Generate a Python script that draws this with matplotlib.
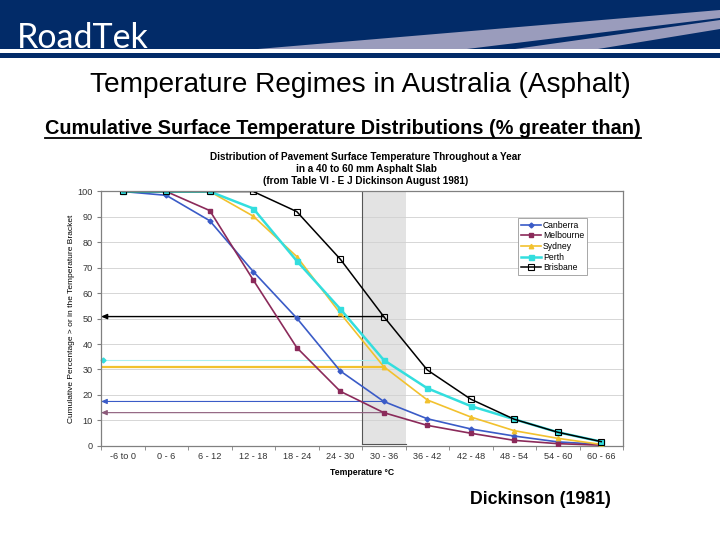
import matplotlib
matplotlib.use('Agg')
import matplotlib.pyplot as plt
from matplotlib.patches import Rectangle, Polygon

plt.rcParams['font.family'] = ['Liberation Sans', 'DejaVu Sans']

categories = ['-6 to 0', '0 - 6', '6 - 12', '12 - 18', '18 - 24', '24 - 30',
              '30 - 36', '36 - 42', '42 - 48', '48 - 54', '54 - 60', '60 - 66']
canberra = [100, 98.5, 88.5, 68.5, 50.2, 29.4, 17.4, 10.6, 6.6, 3.8, 1.5, 0.5]
melbourne = [100, 100, 92.5, 65.2, 38.6, 21.4, 13.0, 8.0, 4.9, 2.1, 0.8, 0.2]
sydney = [100, 100, 100, 90.3, 74.4, 52.1, 31.1, 18.0, 11.3, 5.9, 2.9, 0.5]
perth = [100, 100, 100, 93.3, 72.7, 53.8, 33.7, 22.6, 15.6, 10.4, 5.3, 1.6]
brisbane = [100, 100, 100, 100, 92.1, 73.4, 50.8, 29.8, 18.3, 10.4, 5.3, 1.6]
bracket = 6  # the 30 - 36 bracket that is highlighted

navy = '#022b68'
swoosh = '#9a9cbc'

fig = plt.figure(figsize=(7.2, 5.4), dpi=100)

# page furniture in pixel coordinates
bg = fig.add_axes([0, 0, 1, 1])
bg.set_xlim(0, 720)
bg.set_ylim(540, 0)
bg.axis('off')
bg.add_patch(Rectangle((0, 0), 720, 49, color=navy, lw=0))
bg.add_patch(Rectangle((0, 53), 720, 5, color=navy, lw=0))
bg.add_patch(Polygon([(258, 49), (720, 10), (720, 18), (467, 49)], color=swoosh, lw=0))
bg.add_patch(Polygon([(515, 49), (720, 20), (720, 29), (598, 49)], color=swoosh, lw=0))
bg.text(17, 48, 'RoadTek', color='white', fontsize=24.5, family='Lato', va='baseline')

bg.text(360, 85, 'Temperature Regimes in Australia (Asphalt)', fontsize=20.2,
        ha='center', va='center')
sub = bg.text(343, 128, 'Cumulative Surface Temperature Distributions (% greater than)',
              fontsize=14.3, fontweight='bold', ha='center', va='center')
bg.text(540, 500, 'Dickinson (1981)', fontsize=12.8, fontweight='bold',
        ha='center', va='center')

fig.canvas.draw()
ext = sub.get_window_extent()
bg.plot([ext.x0, ext.x1], [137.5, 137.5], color='black', lw=1.3)

bg.text(366, 169, 'Distribution of Pavement Surface Temperature Throughout a Year\n'
        'in a 40 to 60 mm Asphalt Slab\n(from Table VI - E J Dickinson August 1981)',
        fontsize=7.2, fontweight='bold', ha='center', va='center', linespacing=1.2)

# the chart itself
ax = fig.add_axes([101 / 720, 1 - 445.7 / 540, 522 / 720, 254.2 / 540])
x = list(range(len(categories)))

ax.axvspan(bracket - 0.5, bracket + 0.5, ymin=0.005, ymax=1, facecolor='#e3e3e3', zorder=0.5)
ax.plot([bracket - 0.5, bracket - 0.5], [0.5, 100], color='#555555', lw=0.8, zorder=0.6)
ax.plot([bracket - 0.5, bracket + 0.5], [0.5, 0.5], color='#555555', lw=0.8, zorder=0.6)

ax.plot(x, canberra, color='#3a5bc7', lw=1.2, marker='D', ms=2.5, label='Canberra', zorder=3)
ax.plot(x, melbourne, color='#8b2a5a', lw=1.2, marker='s', ms=3.2, label='Melbourne', zorder=3)
ax.plot(x, sydney, color='#f2c12e', lw=1.2, marker='^', ms=3.2, label='Sydney', zorder=3)
ax.plot(x, perth, color='#33dede', lw=1.8, marker='s', ms=3.6, label='Perth', zorder=3)
ax.plot(x, brisbane, color='black', lw=1.1, marker='s', ms=4.2, mfc='none', mew=0.8,
        label='Brisbane', zorder=4)

# read-off lines from the 30 - 36 bracket to the axis
left = -0.5
for vals, col, lw in [(brisbane, 'black', 1.0), (canberra, '#3a5bc7', 0.8),
                      (melbourne, '#8b5a7a', 0.8)]:
    ax.annotate('', xy=(left, vals[bracket]), xytext=(bracket, vals[bracket]),
                arrowprops=dict(arrowstyle='-|>,head_length=0.35,head_width=0.15',
                                color=col, lw=lw, shrinkA=0, shrinkB=0), zorder=2)
ax.plot([left, bracket], [sydney[bracket]] * 2, color='#f2c12e', lw=1.6, zorder=2)
ax.plot([left, bracket], [perth[bracket]] * 2, color='#aaf0f0', lw=0.8, zorder=2)
ax.plot([left + 0.05], [perth[bracket]], marker='D', color='#33dede', ms=2.5, zorder=2,
        clip_on=False)

ax.set_xlim(-0.5, len(categories) - 0.5)
ax.set_ylim(0, 100)
ax.set_yticks(range(0, 101, 10))
ax.set_xticks(x)
ax.set_xticklabels(categories)
ax.set_xticks([i - 0.5 for i in range(len(categories) + 1)], minor=True)
ax.tick_params(axis='x', which='major', length=0, pad=4.5, labelsize=6.6, colors='#333333')
ax.tick_params(axis='x', which='minor', length=3, color='#808080')
ax.tick_params(axis='y', length=3, color='#808080', labelsize=6.6, pad=3, labelcolor='#333333')
ax.yaxis.grid(True, color='#d0d0d0', lw=0.6)
ax.set_axisbelow(True)
for s in ax.spines.values():
    s.set_color('#808080')
    s.set_linewidth(0.9)

ax.set_xlabel('Temperature °C', fontsize=6.2, fontweight='bold', labelpad=5)
ax.set_ylabel('Cumulative Percentage > or in the Temperature Bracket', fontsize=6.0,
              labelpad=1.5)

leg = ax.legend(loc='upper left', bbox_to_anchor=(0.799, 0.896), fontsize=6.2,
                handlelength=2.4, borderpad=0.3, labelspacing=0.2, handletextpad=0.2,
                borderaxespad=0, fancybox=False, framealpha=1, edgecolor='#999999')
leg.get_frame().set_linewidth(0.6)

fig.savefig('out.png', dpi=100)
